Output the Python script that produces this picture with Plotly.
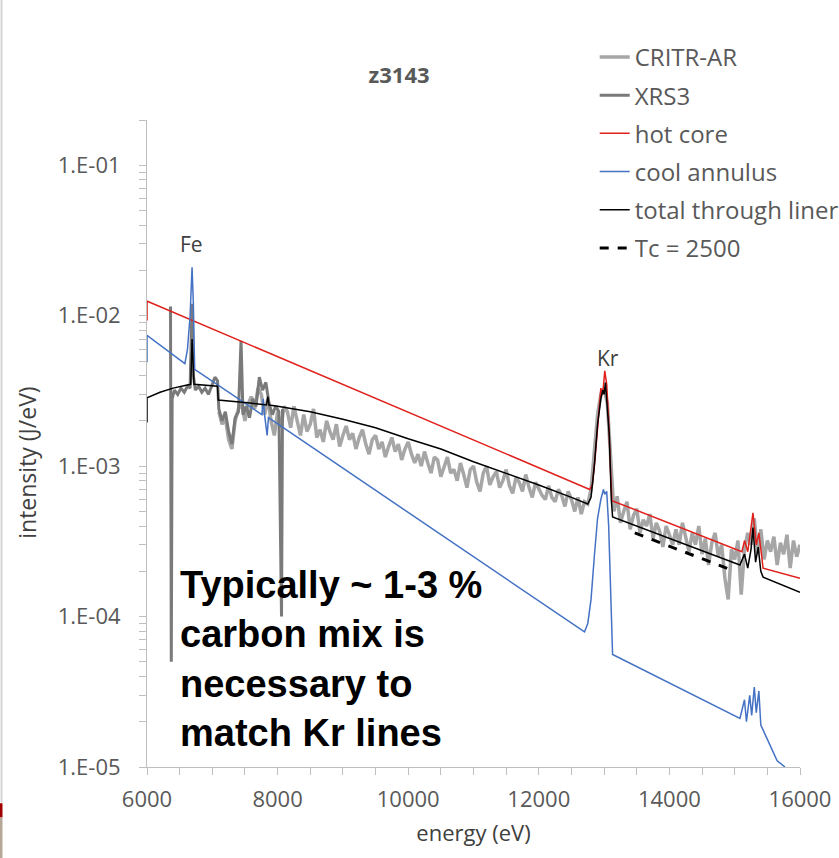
import math
import plotly.graph_objects as go

# ---------------- data ----------------
# CRITR-AR spectrum (J/eV), sampled every 50 eV starting at 7100 eV
critr_start = 7100
critr_step = 50
critr_vals = [
    # 7100 - 8100
    2.3e-3, 1.9e-3, 2.1e-3, 1.5e-3, 1.3e-3, 2.0e-3, 2.4e-3, 2.6e-3, 2.0e-3, 2.6e-3,
    2.9e-3, 2.4e-3, 3.3e-3, 3.0e-3, 2.2e-3, 2.8e-3, 2.0e-3, 1.6e-3, 2.3e-3, 1.8e-3,
    2.5e-3,
    # 8150 - 9100
    2.3e-3, 1.8e-3, 2.5e-3, 2.0e-3, 1.6e-3, 2.2e-3, 1.7e-3, 1.9e-3, 2.4e-3, 1.55e-3,
    1.75e-3, 1.45e-3, 2.0e-3, 1.7e-3, 1.5e-3, 1.9e-3, 1.35e-3, 1.6e-3, 1.85e-3, 1.5e-3,
    # 9150 - 10100
    1.65e-3, 1.3e-3, 1.55e-3, 1.75e-3, 1.4e-3, 1.2e-3, 1.5e-3, 1.6e-3, 1.3e-3, 1.45e-3,
    1.15e-3, 1.35e-3, 1.55e-3, 1.25e-3, 1.4e-3, 1.1e-3, 1.3e-3, 1.45e-3, 1.2e-3, 1.05e-3,
    # 10150 - 11100
    1.2e-3, 1.0e-3, 1.25e-3, 1.05e-3, 0.9e-3, 1.15e-3, 1.1e-3, 0.85e-3, 1.0e-3, 1.15e-3,
    0.9e-3, 0.95e-3, 0.8e-3, 1.05e-3, 0.88e-3, 0.72e-3, 0.95e-3, 1.0e-3, 0.78e-3, 0.68e-3,
    # 11150 - 12100
    0.9e-3, 1.0e-3, 0.75e-3, 0.85e-3, 0.92e-3, 0.72e-3, 0.8e-3, 0.95e-3, 0.74e-3, 0.66e-3,
    0.84e-3, 0.78e-3, 0.68e-3, 0.88e-3, 0.72e-3, 0.62e-3, 0.78e-3, 0.7e-3, 0.64e-3, 0.6e-3,
    # 12150 - 13100
    0.74e-3, 0.62e-3, 0.58e-3, 0.7e-3, 0.64e-3, 0.54e-3, 0.68e-3, 0.6e-3, 0.5e-3, 0.62e-3,
    0.48e-3, 0.58e-3, 0.56e-3, 0.7e-3, 1.2e-3, 2.2e-3, 3.0e-3, 3.3e-3, 2.6e-3, 1.2e-3,
    # 13150 - 14100
    0.5e-3, 0.63e-3, 0.42e-3, 0.5e-3, 0.58e-3, 0.38e-3, 0.47e-3, 0.52e-3, 0.36e-3, 0.44e-3,
    0.4e-3, 0.48e-3, 0.33e-3, 0.42e-3, 0.37e-3, 0.29e-3, 0.4e-3, 0.35e-3, 0.3e-3, 0.38e-3,
    # 14150 - 15100
    0.3e-3, 0.42e-3, 0.34e-3, 0.27e-3, 0.36e-3, 0.3e-3, 0.4e-3, 0.26e-3, 0.33e-3, 0.22e-3,
    0.31e-3, 0.36e-3, 0.25e-3, 0.3e-3, 0.18e-3, 0.13e-3, 0.28e-3, 0.24e-3, 0.32e-3, 0.14e-3,
    # 15150 - 16000
    0.28e-3, 0.36e-3, 0.3e-3, 0.45e-3, 0.26e-3, 0.38e-3, 0.24e-3, 0.32e-3, 0.27e-3, 0.34e-3,
    0.22e-3, 0.31e-3, 0.26e-3, 0.35e-3, 0.21e-3, 0.32e-3, 0.25e-3, 0.3e-3,
]
critr_e = [critr_start + critr_step * i for i in range(len(critr_vals))]

# XRS3 spectrum
xrs3_e = [6360, 6372, 6385, 6420, 6470, 6520, 6570, 6620, 6660, 6690, 6710, 6740,
          6790, 6840, 6890, 6940, 6990, 7040, 7080, 7100, 7150, 7200, 7250, 7300,
          7350, 7400, 7440, 7470, 7520, 7570, 7620, 7670, 7720, 7770, 7820, 7870,
          7920, 7970, 8020, 8060, 8075]
xrs3_vals = [1.15e-2, 5e-5, 2.8e-3, 3.2e-3, 3.0e-3, 3.3e-3, 3.1e-3, 3.4e-3, 3.3e-3, 1.2e-2,
             4.0e-3, 3.2e-3, 3.4e-3, 3.1e-3, 3.3e-3, 3.0e-3, 3.4e-3, 3.9e-3, 3.7e-3, 2.4e-3,
             2.0e-3, 2.3e-3, 1.7e-3, 1.4e-3, 2.1e-3, 2.3e-3, 6.8e-3, 2.2e-3, 2.5e-3, 2.1e-3,
             2.8e-3, 2.5e-3, 3.9e-3, 3.2e-3, 3.6e-3, 2.6e-3, 2.2e-3, 2.5e-3, 2.3e-3, 1.0e-4,
             2.4e-3]

# hot core model
hot_e = [6000, 6000, 12780, 12820, 12860, 12900, 12950, 12980, 13010, 13040, 13070,
         13100, 13120, 15110, 15150, 15200, 15280, 15330, 15370, 15435, 16000]
hot_vals = [9.3e-3, 1.25e-2, 7.0e-4, 7.5e-4, 1.1e-3, 1.8e-3, 3.3e-3, 3.0e-3, 4.3e-3, 3.5e-3, 2.0e-3,
            0.9e-3, 5.9e-4, 2.7e-4, 3.2e-4, 2.7e-4, 4.9e-4, 3.0e-4, 3.6e-4, 2.1e-4, 1.8e-4]

# cool annulus model
cool_e = [6000, 6000, 6580, 6620, 6660, 6690, 6710, 6730, 7760, 7780, 7800, 7840, 7860,
          12700, 12750, 12800, 12850, 12900, 12950, 12990, 13010, 13040, 13070, 13100, 13130,
          15080, 15150, 15180, 15230, 15260, 15300, 15330, 15370, 15400, 15450, 15550, 15650, 15770]
cool_vals = [4.9e-3, 7.4e-3, 4.8e-3, 6.0e-3, 1.0e-2, 2.1e-2, 1.2e-2, 4.4e-3, 2.2e-3, 2.8e-3, 2.2e-3, 1.6e-3, 2.1e-3,
             7.9e-5, 9.0e-5, 1.3e-4, 2.5e-4, 4.5e-4, 6.0e-4, 7.0e-4, 6.5e-4, 6.8e-4, 4.0e-4, 1.2e-4, 5.6e-5,
             2.1e-5, 2.8e-5, 2.0e-5, 3.0e-5, 2.2e-5, 3.4e-5, 2.3e-5, 3.2e-5, 1.9e-5, 1.7e-5, 1.4e-5, 1.1e-5, 1.0e-5]

# total through liner
total_e = [6000, 6000, 6200, 6400, 6600, 6670, 6690, 6700, 6720, 7080, 7090, 7500, 7830, 7850,
           7870, 8000, 8500, 9000, 9500, 10000, 10500, 11000, 11500, 12000, 12500, 12750,
           12800, 12850, 12900, 12950, 12980, 13000, 13020, 13050, 13080, 13110, 13130,
           15080, 15150, 15200, 15250, 15280, 15320, 15360, 15400, 15435, 16000]
total_vals = [1.95e-3, 2.85e-3, 3.1e-3, 3.3e-3, 3.45e-3, 3.5e-3, 7.0e-3, 5.0e-3, 3.5e-3, 3.4e-3, 2.75e-3, 2.65e-3, 2.55e-3, 2.9e-3,
              2.55e-3, 2.5e-3, 2.3e-3, 2.05e-3, 1.8e-3, 1.52e-3, 1.3e-3, 1.07e-3, 0.9e-3, 0.75e-3, 0.62e-3, 0.56e-3,
              0.62e-3, 1.0e-3, 1.9e-3, 2.8e-3, 3.2e-3, 3.0e-3, 3.6e-3, 2.4e-3, 1.6e-3, 0.6e-3, 0.46e-3,
              2.2e-4, 2.6e-4, 2.1e-4, 2.8e-4, 3.9e-4, 2.3e-4, 2.9e-4, 2.0e-4, 1.83e-4, 1.45e-4]

# Tc = 2500 model
tc_e = [13470, 15000]
tc_vals = [3.6e-4, 2.0e-4]

# axis ticks
y_tickvals = [1e-5, 1e-4, 1e-3, 1e-2, 1e-1]
y_ticktext = ["1.E-05", "1.E-04", "1.E-03", "1.E-02", "1.E-01"]
y_minor = [m * 10.0 ** e for e in range(-5, 0) for m in range(2, 10)] + [0.2]

# line labels
label_text = ["Fe", "Kr"]
label_e = [6675, 13060]
label_val = [0.030, 5.2e-3]

note_text = "Typically ~ 1-3 %<br>carbon mix is<br>necessary to<br>match Kr lines"

# ---------------- figure ----------------
FONT = "'Open Sans', Lato, sans-serif"
GRAY_TXT = "#595959"
AXIS_GRAY = "#bfbfbf"

fig = go.Figure()
fig.add_trace(go.Scatter(x=critr_e, y=critr_vals, mode="lines", name="CRITR-AR",
                         line=dict(color="#a6a6a6", width=3.5), legendgroup="a"))
fig.add_trace(go.Scatter(x=xrs3_e, y=xrs3_vals, mode="lines", name="XRS3",
                         line=dict(color="#7a7a7a", width=3), legendgroup="b"))
fig.add_trace(go.Scatter(x=hot_e, y=hot_vals, mode="lines", name="hot core",
                         line=dict(color="#e0201c", width=1.5), legendgroup="c"))
fig.add_trace(go.Scatter(x=cool_e, y=cool_vals, mode="lines", name="cool annulus",
                         line=dict(color="#4472c4", width=1.5), legendgroup="d"))
fig.add_trace(go.Scatter(x=total_e, y=total_vals, mode="lines", name="total through liner",
                         line=dict(color="#000000", width=1.5), legendgroup="e"))
fig.add_trace(go.Scatter(x=tc_e, y=tc_vals, mode="lines", name="Tc = 2500",
                         line=dict(color="#000000", width=3, dash="dash"), legendgroup="f"))

for t, e, v in zip(label_text, label_e, label_val):
    fig.add_annotation(x=e, y=math.log10(v), text=t, showarrow=False,
                       font=dict(family=FONT, size=21, color="#404040"),
                       xanchor="center", yanchor="middle")

fig.add_annotation(xref="paper", yref="paper", x=0.0475, y=0.167, text=note_text,
                   showarrow=False, align="left", xanchor="left", yanchor="middle",
                   font=dict(family="'Liberation Sans', Arial, sans-serif", size=38, color="#000000",
                             weight="bold"))

# y-axis title
fig.add_annotation(xref="paper", yref="paper", x=-0.184, y=0.47, text="intensity (J/eV)",
                   textangle=-90, showarrow=False, xanchor="center", yanchor="middle",
                   font=dict(family=FONT, size=23, color="#404040"))

# page-edge decorations
fig.add_shape(type="line", xref="paper", yref="paper", x0=-0.2228, x1=-0.2228, y0=1.19, y1=-0.055,
              line=dict(color="#d4d4d4", width=2))
fig.add_shape(type="rect", xref="paper", yref="paper", x0=-0.2251, x1=-0.2213, y0=-0.056, y1=-0.078,
              line=dict(width=0), fillcolor="#a00000")
fig.add_shape(type="rect", xref="paper", yref="paper", x0=-0.2251, x1=-0.2213, y0=-0.078, y1=-0.142,
              line=dict(width=0), fillcolor="#b5a898")

fig.update_layout(
    width=839, height=858,
    margin=dict(l=147, r=39, t=120, b=91, autoexpand=False),
    paper_bgcolor="white", plot_bgcolor="white",
    font=dict(family=FONT, color=GRAY_TXT),
    title=dict(text="<b>z3143</b>", x=0.386, xref="paper", xanchor="center",
               y=1 - 75 / 858, yanchor="middle",
               font=dict(family=FONT, size=22, color=GRAY_TXT)),
    showlegend=True,
    legend=dict(x=0.6856, xanchor="left", y=1.1316, yanchor="top",
                font=dict(family=FONT, size=24, color=GRAY_TXT),
                bgcolor="rgba(0,0,0,0)", traceorder="grouped", tracegroupgap=4),
    xaxis=dict(range=[6000, 16000], tick0=6000, dtick=2000, tickformat="d", automargin=False,
               showline=True, linecolor=AXIS_GRAY, linewidth=1, mirror=False,
               ticks="outside", ticklen=7, tickcolor=AXIS_GRAY, showgrid=False, zeroline=False,
               tickfont=dict(family=FONT, size=22, color=GRAY_TXT), ticklabelstandoff=6,
               minor=dict(dtick=500, tick0=6000, ticks="outside", ticklen=7, tickcolor=AXIS_GRAY, showgrid=False),
               title=dict(text="energy (eV)", font=dict(family=FONT, size=22, color="#404040"), standoff=13)),
    yaxis=dict(type="log", range=[-5, math.log10(0.2)], automargin=False,
               tickvals=y_tickvals, ticktext=y_ticktext,
               showline=True, linecolor=AXIS_GRAY, linewidth=1,
               ticks="outside", ticklen=7, tickcolor=AXIS_GRAY, showgrid=False, zeroline=False,
               tickfont=dict(family=FONT, size=22, color=GRAY_TXT), ticklabelstandoff=14,
               minor=dict(tickvals=y_minor, ticks="outside", ticklen=7, tickcolor=AXIS_GRAY, showgrid=False)),
)

fig.write_html("out.html")
